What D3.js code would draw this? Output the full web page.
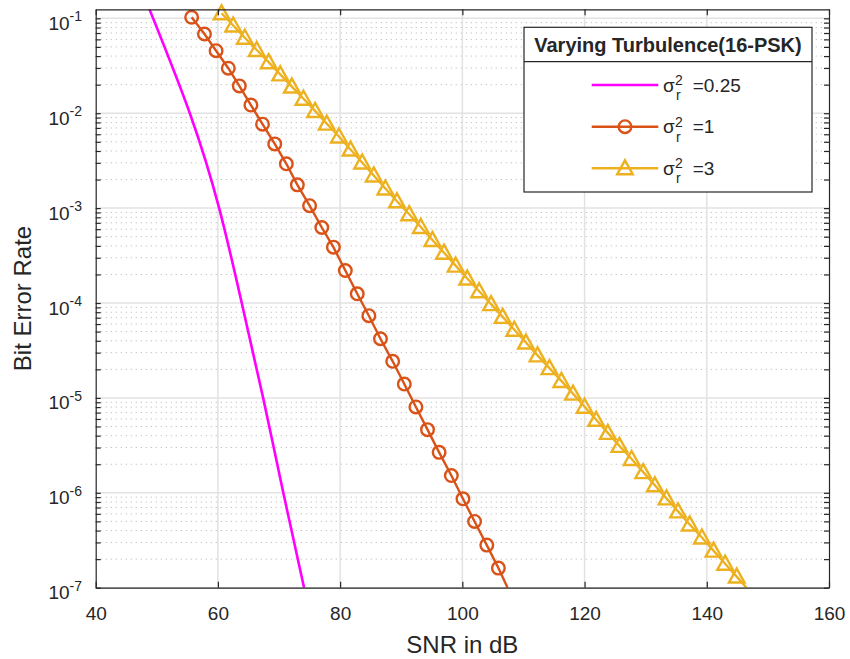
<!DOCTYPE html>
<html>
<head>
<meta charset="utf-8">
<script src="https://cdn.jsdelivr.net/npm/d3@7"></script>
<style>
  body { margin: 0; background: #fff; }
  svg text { font-family: "Liberation Sans", Arial, Helvetica, sans-serif; fill: #262626; }
</style>
</head>
<body>
<script>
// chart data
const snrTicks = [40, 60, 80, 100, 120, 140, 160];
const berExponents = [-7, -6, -5, -4, -3, -2, -1];

// sigma_r^2 = 0.25 (smooth line, no markers)
const magentaSnr = [48.8, 55.4, 60.2, 63.9, 67.4, 70.7, 74.1];
const magentaBer = [0.1245, 1e-2, 1e-3, 1e-4, 1e-5, 1e-6, 1e-7];

// sigma_r^2 = 1 (circle markers)
const orangeSnr = [55.7, 57.8, 59.7, 61.7, 63.5, 65.4, 67.3, 69.3, 71.2, 73.0, 75.0, 77.0, 78.9,
  80.85, 82.8, 84.7, 86.6, 88.6, 90.5, 92.4, 94.3, 96.2, 98.2, 100.1, 102.0, 104.0, 105.9];
const orangeBer = [0.1026, 0.0684, 0.0456, 0.0298, 0.0194, 0.0122, 0.00766, 0.00475, 0.00293,
  0.00176, 0.00106, 6.25e-4, 3.88e-4, 2.2e-4, 1.25e-4, 7.35e-5, 4.2e-5, 2.43e-5, 1.40e-5,
  8.03e-6, 4.63e-6, 2.67e-6, 1.52e-6, 8.65e-7, 4.99e-7, 2.81e-7, 1.61e-7];
const orangeTail = [107.4, 1e-7];

// sigma_r^2 = 3 (triangle markers)
const yellowSnr = [60.6, 62.5, 64.4, 66.35, 68.3, 70.2, 72.1, 74.0, 75.9, 77.8, 79.8, 81.7,
  83.6, 85.5, 87.4, 89.3, 91.3, 93.2, 95.1, 97.0, 98.9, 100.8, 102.75, 104.7, 106.6, 108.5,
  110.4, 112.3, 114.25, 116.2, 118.1, 120.0, 121.9, 123.8, 125.7, 127.7, 129.6, 131.5,
  133.4, 135.3, 137.2, 139.2, 141.1, 143.0, 144.9];
const yellowBer = [0.113, 0.0840, 0.0624, 0.0464, 0.0345, 0.0257, 0.0191, 0.0142, 0.01057,
  0.00777, 0.00568, 0.00414, 0.00303, 0.00221, 0.00161, 0.00118, 8.63e-4, 6.32e-4, 4.62e-4,
  3.39e-4, 2.48e-4, 1.81e-4, 1.33e-4, 9.73e-5, 7.14e-5, 5.23e-5, 3.83e-5, 2.81e-5, 2.06e-5,
  1.51e-5, 1.11e-5, 8.07e-6, 5.88e-6, 4.28e-6, 3.12e-6, 2.27e-6, 1.65e-6, 1.20e-6, 8.74e-7,
  6.37e-7, 4.64e-7, 3.38e-7, 2.46e-7, 1.79e-7, 1.31e-7];
const yellowTail = [146.5, 1e-7];

const legendTitle = 'Varying Turbulence(16-PSK)';
const legendValues = ['0.25', '1', '3'];

const width = 850;
const height = 659;
const plotLeft = 95.7, plotRight = 829, plotTop = 9.3, plotBottom = 587.7;

const svg = d3.select('body').append('svg')
  .attr('width', width)
  .attr('height', height);

const x = d3.scaleLinear().domain([40, 160]).range([plotLeft, plotRight]);
const y = d3.scaleLog().domain([1e-7, 0.1245]).range([plotBottom, plotTop]);

// log ticks: decades + minor 2..9
const majorBer = berExponents.map(e => Math.pow(10, e));
const minorBer = [];
berExponents.forEach(e => {
  for (let m = 2; m <= 9; m++) {
    const v = m * Math.pow(10, e);
    if (v <= y.domain()[1]) minorBer.push(v);
  }
});

// grid
const grid = svg.append('g').attr('class', 'grid');
grid.selectAll('line.minor')
  .data(minorBer)
  .enter().append('line')
  .attr('class', 'minor')
  .attr('x1', plotLeft).attr('x2', plotRight)
  .attr('y1', d => y(d)).attr('y2', d => y(d))
  .attr('stroke', '#c4c4c4')
  .attr('stroke-width', 1)
  .attr('stroke-dasharray', '1.3,3.7');

grid.selectAll('line.majory')
  .data(majorBer)
  .enter().append('line')
  .attr('class', 'majory')
  .attr('x1', plotLeft).attr('x2', plotRight)
  .attr('y1', d => y(d)).attr('y2', d => y(d))
  .attr('stroke', '#e2e2e2')
  .attr('stroke-width', 1.5);

grid.selectAll('line.majorx')
  .data(snrTicks.slice(1, -1))
  .enter().append('line')
  .attr('class', 'majorx')
  .attr('x1', d => x(d)).attr('x2', d => x(d))
  .attr('y1', plotTop).attr('y2', plotBottom)
  .attr('stroke', '#e2e2e2')
  .attr('stroke-width', 1.5);

// clip for lines
svg.append('defs').append('clipPath').attr('id', 'plot-clip')
  .append('rect')
  .attr('x', plotLeft).attr('y', plotTop)
  .attr('width', plotRight - plotLeft).attr('height', plotBottom - plotTop);

const line = d3.line().x(d => x(d[0])).y(d => y(d[1]));

const magentaPts = magentaSnr.map((s, i) => [s, magentaBer[i]]);
const orangePts = orangeSnr.map((s, i) => [s, orangeBer[i]]);
const yellowPts = yellowSnr.map((s, i) => [s, yellowBer[i]]);

const plot = svg.append('g');

plot.append('path')
  .datum(magentaPts)
  .attr('clip-path', 'url(#plot-clip)')
  .attr('fill', 'none')
  .attr('stroke', '#ff00ff')
  .attr('stroke-width', 2.6)
  .attr('d', line.curve(d3.curveNatural));

plot.append('path')
  .datum(orangePts.concat([orangeTail]))
  .attr('clip-path', 'url(#plot-clip)')
  .attr('fill', 'none')
  .attr('stroke', '#d95319')
  .attr('stroke-width', 2.4)
  .attr('d', line.curve(d3.curveLinear));

plot.append('path')
  .datum(yellowPts.concat([yellowTail]))
  .attr('clip-path', 'url(#plot-clip)')
  .attr('fill', 'none')
  .attr('stroke', '#edb120')
  .attr('stroke-width', 2.4)
  .attr('d', line.curve(d3.curveLinear));

const triPath = 'M0,-8L7.8,6L-7.8,6Z';

plot.selectAll('circle.mk')
  .data(orangePts)
  .enter().append('circle')
  .attr('class', 'mk')
  .attr('cx', d => x(d[0]))
  .attr('cy', d => y(d[1]))
  .attr('r', 6.3)
  .attr('fill', 'none')
  .attr('stroke', '#d95319')
  .attr('stroke-width', 2.4);

plot.selectAll('path.tri')
  .data(yellowPts)
  .enter().append('path')
  .attr('class', 'tri')
  .attr('transform', d => `translate(${x(d[0])},${y(d[1])})`)
  .attr('d', triPath)
  .attr('fill', 'none')
  .attr('stroke', '#edb120')
  .attr('stroke-width', 2.4)
  .attr('stroke-linejoin', 'miter');

// axes (ticks point inward, box on)
function styleAxis(g) {
  g.select('.domain').attr('stroke', '#262626').attr('stroke-width', 1.2);
  g.selectAll('.tick line').attr('stroke', '#262626').attr('stroke-width', 1.2);
}

const xBottom = svg.append('g')
  .attr('transform', `translate(0,${plotBottom})`)
  .call(d3.axisBottom(x).tickValues(snrTicks).tickSize(-6).tickSizeOuter(0).tickPadding(18.5));
styleAxis(xBottom);
xBottom.selectAll('.tick text')
  .attr('font-size', 19)
  .attr('font-family', '"Liberation Sans", Arial, sans-serif')
  .attr('fill', '#262626');

const xTop = svg.append('g')
  .attr('transform', `translate(0,${plotTop})`)
  .call(d3.axisTop(x).tickValues(snrTicks).tickSize(-6).tickSizeOuter(0).tickFormat(''));
styleAxis(xTop);

const yLeft = svg.append('g')
  .attr('transform', `translate(${plotLeft},0)`)
  .call(d3.axisLeft(y).tickValues(majorBer.concat(minorBer)).tickSize(-5).tickSizeOuter(0).tickFormat(''));
styleAxis(yLeft);

const yRight = svg.append('g')
  .attr('transform', `translate(${plotRight},0)`)
  .call(d3.axisRight(y).tickValues(majorBer.concat(minorBer)).tickSize(-5).tickSizeOuter(0).tickFormat(''));
styleAxis(yRight);

// y tick labels 10^e
const yLabels = svg.append('g');
berExponents.forEach((e, i) => {
  const t = yLabels.append('text')
    .attr('x', 82)
    .attr('y', y(majorBer[i]) + 11.5)
    .attr('text-anchor', 'end')
    .attr('font-size', 19);
  t.append('tspan').text('10');
  t.append('tspan').attr('font-size', 14).attr('dy', -8.5).text(String(e));
});

// axis labels
svg.append('text')
  .attr('x', (plotLeft + plotRight) / 2)
  .attr('y', 653)
  .attr('text-anchor', 'middle')
  .attr('font-size', 24)
  .text('SNR in dB');

svg.append('text')
  .attr('transform', `translate(31,${(plotTop + plotBottom) / 2}) rotate(-90)`)
  .attr('text-anchor', 'middle')
  .attr('font-size', 24)
  .text('Bit Error Rate');

// legend
const lg = svg.append('g');
const lgX0 = 524, lgX1 = 812, lgY0 = 27.3, lgY1 = 192, lgSep = 61.7;
lg.append('rect')
  .attr('x', lgX0).attr('y', lgY0)
  .attr('width', lgX1 - lgX0).attr('height', lgY1 - lgY0)
  .attr('fill', '#fff')
  .attr('stroke', '#262626')
  .attr('stroke-width', 1.2);
lg.append('line')
  .attr('x1', lgX0).attr('x2', lgX1)
  .attr('y1', lgSep).attr('y2', lgSep)
  .attr('stroke', '#262626')
  .attr('stroke-width', 1.2);
lg.append('text')
  .attr('x', (lgX0 + lgX1) / 2)
  .attr('y', 52)
  .attr('text-anchor', 'middle')
  .attr('font-size', 20)
  .attr('font-weight', 'bold')
  .attr('fill', '#000')
  .text(legendTitle);

const lgColors = ['#ff00ff', '#d95319', '#edb120'];
const lgRows = [85, 126.7, 168.3];
legendValues.forEach((v, i) => {
  const cy = lgRows[i];
  lg.append('line')
    .attr('x1', 591.7).attr('x2', 658.3)
    .attr('y1', cy).attr('y2', cy)
    .attr('stroke', lgColors[i])
    .attr('stroke-width', i === 0 ? 2.6 : 2.4);
  if (i === 1) {
    lg.append('circle')
      .attr('cx', 625).attr('cy', cy).attr('r', 6.3)
      .attr('fill', 'none').attr('stroke', lgColors[i]).attr('stroke-width', 2.4);
  }
  if (i === 2) {
    lg.append('path')
      .attr('transform', `translate(625,${cy})`)
      .attr('d', triPath)
      .attr('fill', 'none').attr('stroke', lgColors[i]).attr('stroke-width', 2.4);
  }
  lg.append('text').attr('x', 663).attr('y', cy + 6.7).attr('font-size', 19).attr('fill', '#000').text('σ');
  lg.append('text').attr('x', 675).attr('y', cy).attr('font-size', 14).attr('fill', '#000').text('2');
  lg.append('text').attr('x', 676).attr('y', cy + 15).attr('font-size', 14).attr('fill', '#000').text('r');
  lg.append('text').attr('x', 692.7).attr('y', cy + 6.7).attr('font-size', 19).attr('fill', '#000').text('=' + v);
});
</script>
</body>
</html>
